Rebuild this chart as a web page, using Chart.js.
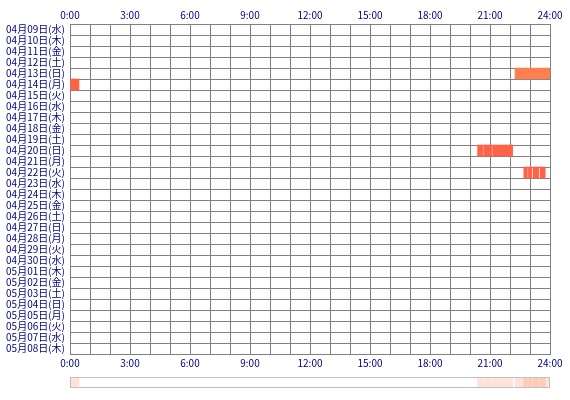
<!DOCTYPE html>
<html>
<head>
<meta charset="utf-8">
<script src="https://cdn.jsdelivr.net/npm/chart.js@4"></script>
<style>
  body { margin: 0; background: #fff; }
  canvas { display: block; }
</style>
</head>
<body>
<canvas id="grafico" width="570" height="372"></canvas>
<canvas id="franja" width="570" height="28"></canvas>
<script>
// filas (dias) y tramos de actividad en horas
const dias = [
  '04月09日(水)', '04月10日(木)', '04月11日(金)', '04月12日(土)', '04月13日(日)',
  '04月14日(月)', '04月15日(火)', '04月16日(水)', '04月17日(木)', '04月18日(金)',
  '04月19日(土)', '04月20日(日)', '04月21日(月)', '04月22日(火)', '04月23日(水)',
  '04月24日(木)', '04月25日(金)', '04月26日(土)', '04月27日(日)', '04月28日(月)',
  '04月29日(火)', '04月30日(水)', '05月01日(木)', '05月02日(金)', '05月03日(土)',
  '05月04日(日)', '05月05日(月)', '05月06日(火)', '05月07日(水)', '05月08日(木)'
];
const tramoDia = [
  '04月13日(日)', '04月14日(月)',
  '04月20日(日)', '04月20日(日)', '04月20日(日)',
  '04月22日(火)', '04月22日(火)', '04月22日(火)', '04月22日(火)'
];
const tramoInicio = [22.25, 0, 20.38, 20.68, 21.13, 22.69, 22.92, 23.15, 23.5];
const tramoFin = [24, 0.45, 20.63, 21.08, 22.13, 22.87, 23.08, 23.43, 23.76];
const horas = [0, 3, 6, 9, 12, 15, 18, 21, 24];

const colorTexto = '#000080';
const colorGrilla = '#808080';
const fuente = { family: '"Noto Sans CJK JP", sans-serif', size: 10 };

const colores = tramoDia.map(d => d === '04月13日(日)' ? '#ff7f50' : '#ff6347');

const datos = tramoDia.map((d, i) => ({ x: [tramoInicio[i], tramoFin[i]], y: d }));

function etiquetaHora(v) {
  return horas.includes(v) ? v + ':00' : '';
}

const ejeHoras = (posicion, alto, conGrilla) => ({
  type: 'linear',
  position: posicion,
  min: 0,
  max: 24,
  z: 1,
  afterFit: s => { s.height = alto; },
  grid: { display: conGrilla, color: colorGrilla, drawTicks: false, lineWidth: 1 },
  border: { display: true, color: colorGrilla },
  ticks: { stepSize: 1, autoSkip: false, maxRotation: 0, padding: 3, color: colorTexto, font: fuente, callback: etiquetaHora }
});

new Chart(document.getElementById('grafico'), {
  type: 'bar',
  data: {
    labels: dias,
    datasets: [{
      data: datos,
      backgroundColor: colores,
      borderWidth: 0,
      barPercentage: 1,
      categoryPercentage: 1
    }]
  },
  options: {
    indexAxis: 'y',
    responsive: false,
    animation: false,
    devicePixelRatio: 1,
    layout: { padding: { left: 0, right: 20, top: 0, bottom: 0 } },
    scales: {
      x: ejeHoras('top', 24, true),
      x2: ejeHoras('bottom', 18, false),
      y: {
        type: 'category',
        z: 1,
        afterFit: s => { s.width = 70; },
        grid: { color: colorGrilla, drawTicks: false, offset: true },
        border: { color: colorGrilla },
        ticks: { autoSkip: false, padding: 5, color: colorTexto, font: fuente }
      }
    },
    plugins: { legend: { display: false }, tooltip: { enabled: false } }
  }
});

// franja resumen abajo
const marco = {
  id: 'marco',
  afterDraw(chart) {
    const a = chart.chartArea;
    const ctx = chart.ctx;
    ctx.save();
    ctx.strokeStyle = '#c0c0c0';
    ctx.lineWidth = 1;
    ctx.strokeRect(a.left + 0.5, a.top + 0.5, a.right - a.left - 1, a.bottom - a.top - 1);
    ctx.restore();
  }
};

new Chart(document.getElementById('franja'), {
  type: 'bar',
  data: {
    labels: ['total'],
    datasets: [{
      data: tramoDia.map((d, i) => ({ x: [tramoInicio[i], tramoFin[i]], y: 'total' })),
      backgroundColor: 'rgba(255, 110, 60, 0.2)',
      borderWidth: 0,
      barPercentage: 1,
      categoryPercentage: 1
    }]
  },
  options: {
    indexAxis: 'y',
    responsive: false,
    animation: false,
    devicePixelRatio: 1,
    layout: { padding: { left: 70, right: 20, top: 5, bottom: 12 } },
    scales: {
      x: { type: 'linear', min: 0, max: 24, display: false },
      y: { type: 'category', display: false }
    },
    plugins: { legend: { display: false }, tooltip: { enabled: false } }
  },
  plugins: [marco]
});
</script>
</body>
</html>
